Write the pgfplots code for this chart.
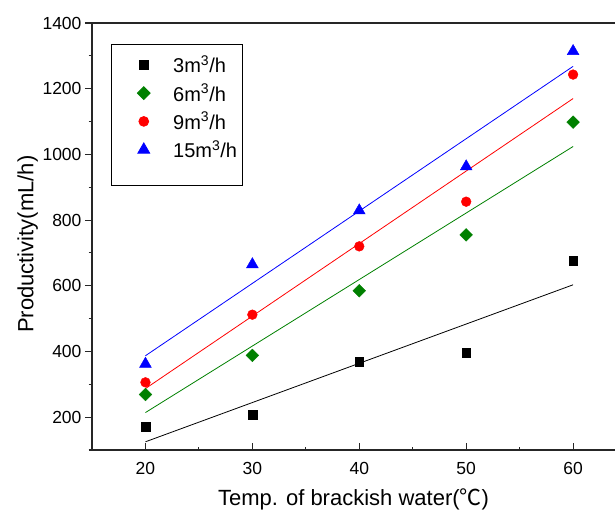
\documentclass[border=0pt]{standalone}
\usepackage{pgfplots}
\pgfplotsset{compat=1.18}
\usepackage{fontspec}
\setmainfont{Liberation Sans}
\newfontfamily\cjk{Noto Sans CJK SC}
\definecolor{ogreen}{RGB}{0,128,0}
\begin{document}
\begin{tikzpicture}
\useasboundingbox (0pt,0pt) rectangle (615pt,512pt);
\begin{axis}[
  at={(92pt,62pt)}, anchor=south west,
  scale only axis, width=523pt, height=427pt,
  xmin=15, xmax=63.92, ymin=100, ymax=1400,
  axis x line=box, axis y line=left,
  axis line style={-, line width=1.4pt, black!85},
  xtick={20,30,40,50,60}, minor xtick={25,35,45,55},
  ytick={200,400,...,1400}, minor ytick={100,300,...,1300},
  xtick pos=left,
  xtick align=inside, ytick align=outside,
  major tick length=7pt, minor tick length=3.5pt,
  tick style={line width=1.1pt, black!85},
  /pgf/number format/assume math mode=true,
  /pgf/number format/1000 sep={},
  tick label style={font=\fontsize{17.5}{20}\selectfont},
  xticklabel style={yshift=-9pt},
  xlabel={Temp. of brackish water({\cjk ℃})},
  ylabel={Productivity(mL/h)},
  every axis x label/.style={at={(axis description cs:0.5,-0.1288)}, anchor=base, font=\fontsize{22}{26}\selectfont},
  every axis y label/.style={at={(axis description cs:-0.1119,0.482)}, rotate=90, anchor=base, font=\fontsize{22}{26}\selectfont},
  legend style={at={(axis description cs:0.0363,0.9508)}, anchor=north west, draw=black, line width=0.8pt,
    font=\fontsize{20}{23}\selectfont, row sep=5.5pt, inner xsep=3pt, inner ysep=9pt},
  legend cell align=left,
  legend image code/.code={\path (0pt,0pt) (56pt,0pt); \draw[#1] plot coordinates {(29pt,0pt)};},
]
\addplot[only marks, mark=square*, mark size=4.4pt, black] coordinates {(20,172) (30,207) (40,369) (50,396) (60,676)};
\addlegendentry{3m\textsuperscript{3}/h\hspace{5pt}}
\addplot[only marks, mark=square*, mark size=4.5pt, mark options={rotate=45}, ogreen] coordinates {(20,269) (30,388) (40,585) (50,755) (60,1098)};
\addlegendentry{6m\textsuperscript{3}/h}
\addplot[only marks, mark=*, mark size=4.9pt, red] coordinates {(20,306) (30,512) (40,720) (50,856) (60,1243)};
\addlegendentry{9m\textsuperscript{3}/h}
\addplot[only marks, mark=triangle*, mark size=6.8pt, blue] coordinates {(20,362) (30,665) (40,829) (50,963) (60,1314)};
\addlegendentry{15m\textsuperscript{3}/h}
\addlegendimage{empty legend}
\addlegendentry{\rule{0pt}{4pt}}
\addplot[black, line width=0.8pt, forget plot] coordinates {(20,125) (60,603)};
\addplot[ogreen, line width=0.8pt, forget plot] coordinates {(20,214) (60,1024)};
\addplot[red, line width=0.8pt, forget plot] coordinates {(20,287) (60,1170)};
\addplot[blue, line width=0.8pt, forget plot] coordinates {(20,387) (60,1268)};
\end{axis}
\end{tikzpicture}
\end{document}
